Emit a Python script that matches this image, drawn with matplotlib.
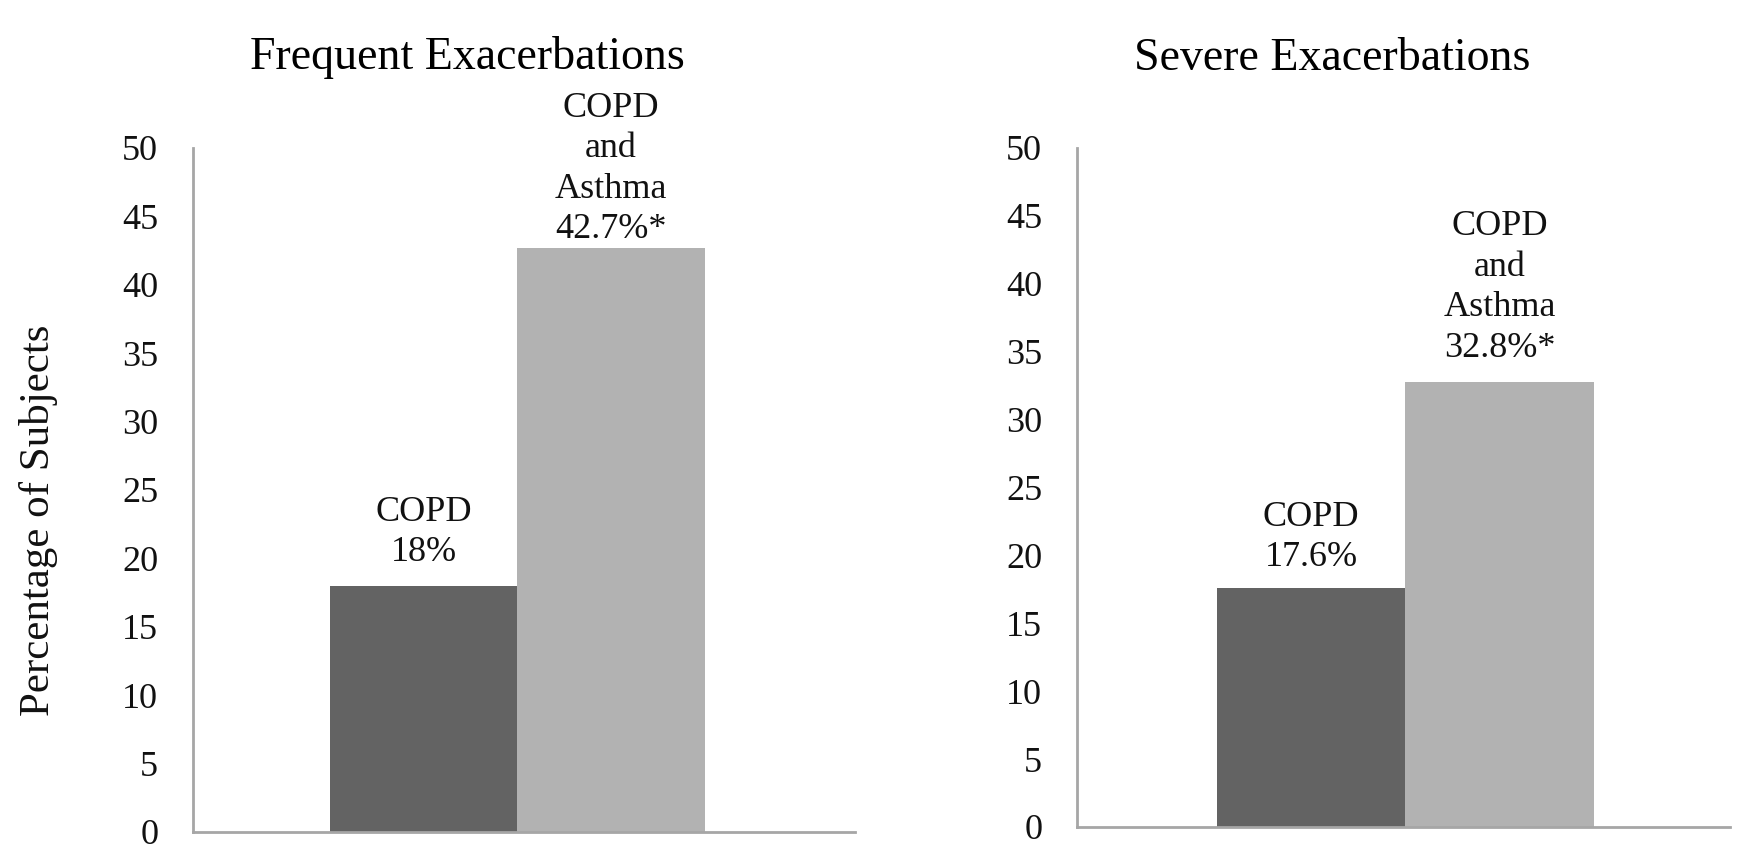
import matplotlib.pyplot as plt

plt.rcParams['font.family'] = ['Liberation Serif', 'DejaVu Serif']

# exacerbation rates, % of subjects
groups = ['COPD', 'COPD\nand\nAsthma']
frequent = [18.0, 42.7]
severe = [17.6, 32.8]
frequent_labels = ['COPD\n18%', 'COPD\nand\nAsthma\n42.7%*']
severe_labels = ['COPD\n17.6%', 'COPD\nand\nAsthma\n32.8%*']
yticks = [0, 5, 10, 15, 20, 25, 30, 35, 40, 45, 50]

bar_colors = ['#636363', '#b2b2b2']
spine_color = '#a6a6a6'

fig = plt.figure(figsize=(17.48, 8.46), dpi=100)

panels = [
    # axes rect, title, title x, values, labels, label offsets (pt), xlim
    ([0.1104, 0.0166, 0.3787, 0.8085], 'Frequent Exacerbations', 0.414,
     frequent, frequent_labels, [12, 1], (-1.23, 2.30)),
    ([0.6161, 0.0225, 0.3736, 0.8026], 'Severe Exacerbations', 0.391,
     severe, severe_labels, [10, 12], (-1.24, 2.22)),
]

for rect, title, tx, vals, labels, offs, xlim in panels:
    ax = fig.add_axes(rect)
    x = range(len(vals))
    bars = ax.bar(x, vals, width=1.0, color=bar_colors, edgecolor='none')
    for b, lab, off in zip(bars, labels, offs):
        ax.annotate(lab, (b.get_x() + b.get_width() / 2, b.get_height()),
                    xytext=(0, off), textcoords='offset points',
                    ha='center', va='bottom', fontsize=26,
                    linespacing=1.3, color='#111111')
    ax.set_xlim(*xlim)
    ax.set_ylim(0, 50)
    ax.set_yticks(yticks)
    ax.set_xticks([])
    ax.tick_params(axis='y', length=0, pad=25, labelsize=26, labelcolor='#111111')
    for s in ['top', 'right']:
        ax.spines[s].set_visible(False)
    for s in ['left', 'bottom']:
        ax.spines[s].set_color(spine_color)
        ax.spines[s].set_linewidth(2)
    ax.text(tx, 1.115, title, transform=ax.transAxes, ha='center',
            va='baseline', fontsize=33, color='black')

fig.text(0.022, 0.385, 'Percentage of Subjects', rotation=90,
         ha='center', va='center', fontsize=31, color='#111111')

fig.savefig('out.png', dpi=100, facecolor='white')
